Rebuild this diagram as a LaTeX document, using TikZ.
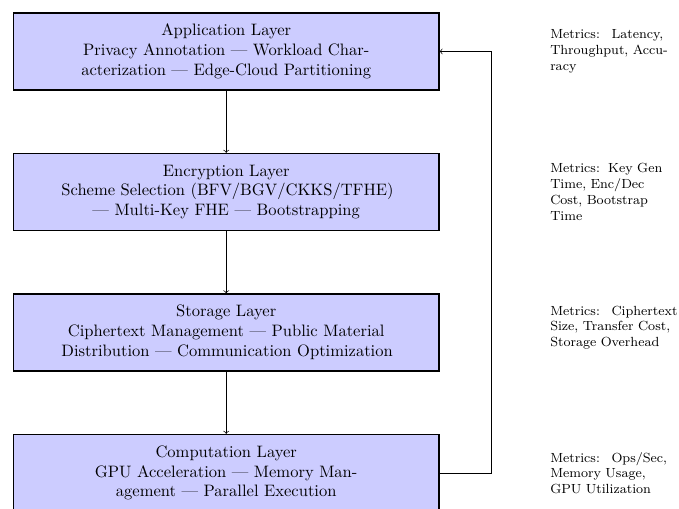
\documentclass[tikz,border=0pt]{standalone}
\usetikzlibrary{calc}
\begin{document}
\begin{tikzpicture}[
  layerbox/.style={draw=black, thick, fill=blue!20, text width=7cm, align=center,
    minimum width=257pt, minimum height=46.5pt, inner sep=3pt},
  metricbox/.style={anchor=west, text width=3cm, align=left, font=\footnotesize, inner sep=3pt},
  flow/.style={->, black}
]
\useasboundingbox (0,0) rectangle (410.3pt,-307pt);
\node[layerbox] (app) at (136.7pt,-31.1pt) {\mbox{Application Layer}\\\mbox{Privacy Annotation --- Workload Char-}\\\mbox{acterization --- Edge-Cloud Partitioning}};
\node[layerbox] (enc) at (136.7pt,-116.0pt) {\mbox{Encryption Layer}\\\mbox{Scheme Selection (BFV/BGV/CKKS/TFHE)}\\\mbox{--- Multi-Key FHE --- Bootstrapping}};
\node[layerbox] (sto) at (136.7pt,-200.9pt) {\mbox{Storage Layer}\\\mbox{Ciphertext Management --- Public Material}\\\mbox{Distribution --- Communication Optimization}};
\node[layerbox] (comp) at (136.7pt,-285.8pt) {\mbox{Computation Layer}\\\mbox{GPU Acceleration --- Memory Man-}\\\mbox{agement --- Parallel Execution}};

\node[metricbox] (m1) at (329.3pt,-31.1pt) {Metrics:\hspace{7pt}Latency,\\Throughput, Accu-\\racy};
\node[metricbox] (m2) at (329.3pt,-116.0pt) {Metrics:\hspace{5pt}Key Gen\\Time, Enc/Dec\\Cost, Bootstrap\\Time};
\node[metricbox] (m3) at (329.3pt,-198pt) {Metrics:\hspace{7pt}Ciphertext\\Size, Transfer Cost,\\Storage Overhead};
\node[metricbox] (m4) at (329.3pt,-285.8pt) {Metrics:\hspace{7pt}Ops/Sec,\\Memory Usage,\\GPU Utilization};

\draw[flow] (app) -- (enc);
\draw[flow] (enc) -- (sto);
\draw[flow] (sto) -- (comp);
\coordinate (fb) at ($(comp.east)+(31.5pt,0)$);
\draw[flow] (comp.east) -- (fb) |- (app.east);
\end{tikzpicture}
\end{document}
